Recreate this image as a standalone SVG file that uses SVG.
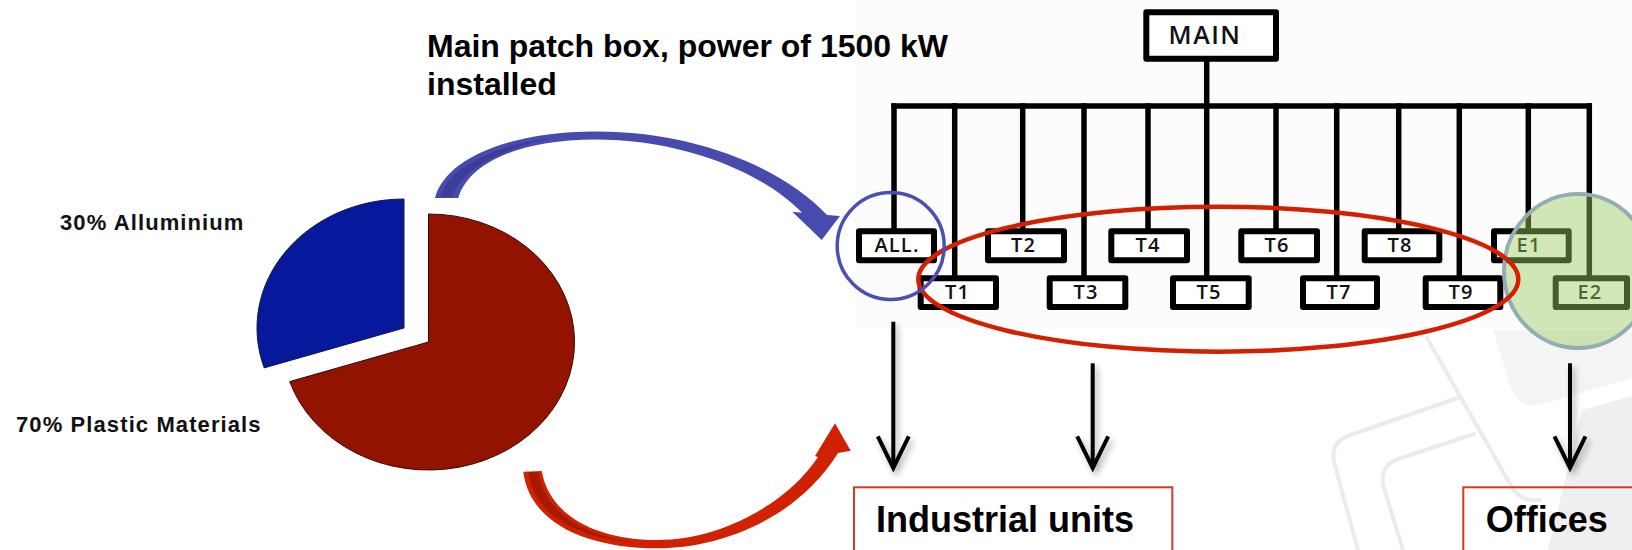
<svg xmlns="http://www.w3.org/2000/svg" width="1632" height="550" viewBox="0 0 1632 550">
<style>
.t{font-family:"Liberation Sans",Arial,sans-serif;font-weight:bold;fill:#000}
.lbl{font-family:"Liberation Sans",Arial,sans-serif;font-weight:bold;font-size:22px;letter-spacing:1.1px;fill:#111}
.bx{fill:#fff;stroke:#000;stroke-width:6;stroke-linejoin:round}
.bt{font-family:"Open Sans","DejaVu Sans",sans-serif;font-weight:600;font-size:20px;letter-spacing:1.2px;fill:#111;text-anchor:middle}
.ln{stroke:#000;stroke-width:5.5;fill:none}
.dn{stroke:#000;stroke-width:4;fill:none}
.wm{fill:none;stroke:#ebebeb;stroke-width:4;stroke-linecap:round}
.ob{fill:none;stroke:#d2392a;stroke-width:2}
</style>
<defs>
<filter id="sh" x="-50%" y="-20%" width="200%" height="140%">
<feDropShadow dx="3" dy="4" stdDeviation="3" flood-color="#000" flood-opacity="0.3"/>
</filter>
<marker id="v" markerUnits="userSpaceOnUse" viewBox="-36 -20 40 40" refX="0" refY="0" markerWidth="40" markerHeight="40" orient="auto" overflow="visible">
<path d="M -31.6 -15.5 L 0 0 L -31.6 15.5" fill="none" stroke="#000" stroke-width="4" stroke-linejoin="miter"/>
</marker>
</defs>
<rect width="1632" height="550" fill="#fff"/>
<g id="watermark">
<path d="M 1493 330 L 1511 388 Q 1519 410 1542 404 L 1632 378 L 1632 330 Z" fill="#f4f4f4"/>
<path d="M 1582 410 L 1632 396 L 1632 550 L 1548 550 Z" fill="#efefef"/>
<path class="wm" d="M 1427 338 L 1510 484 Q 1520 503 1540 500"/>
<path class="wm" d="M 1358 550 L 1334 462 Q 1330 442 1350 435 L 1458 398"/>
<path class="wm" d="M 1403 550 L 1383 485 Q 1380 466 1398 459 L 1474 434"/>
</g>
<rect x="855" y="0" width="777" height="328" fill="#fcfcfc"/>
<g id="pie">
<path id="slice-aluminium" d="M 404 328 L 404 199 A 147 129 0 0 0 264.2 367.9 Z" fill="#06189c" stroke="#1a1a40" stroke-width="1"/>
<path id="slice-plastic" d="M 428.5 342 L 428.5 214 A 146 128 0 1 1 289.7 381.6 Z" fill="#921400" stroke="#3a0800" stroke-width="1"/>
</g>
<text class="lbl" x="60" y="230">30% Alluminium</text>
<text class="lbl" x="16" y="431.7">70% Plastic Materials</text>
<g id="title">
<text class="t" x="427" y="57" font-size="32">Main patch box, power of 1500 kW</text>
<text class="t" x="427" y="94.5" font-size="32">installed</text>
</g>
<g id="connectors">
<path id="blue-arrow" d="M 435 198 C 445 160 505 132 595 131.5 C 690 131 780 165 827 215 L 840 216 L 821.7 240 L 792.3 211.7 L 802 212.7 C 760 170 680 139.5 595 139.5 C 515 140 468 165 458.3 198 Z" fill="#474bae"/>
<path d="M 440 197 C 450 165 500 143 560 137 C 505 146 462 168 452 197 Z" fill="#3a3e96"/>
<path id="red-arrow" d="M 523.3 471.7 C 530 525 590 548.3 656.7 548.3 C 715 549 795 522 838 453 L 850.7 450.7 L 835 423.3 L 815 456 L 818 457 C 790 500 725 540 656.7 540 C 600 540 550 518 541.7 471 Z" fill="#d02200"/>
<path d="M 528 472 C 534 512 570 536 630 542 C 575 532 546 510 538 472 Z" fill="#a81a00"/>
<g filter="url(#sh)">
<line class="dn" x1="893.3" y1="321.7" x2="893.3" y2="468" marker-end="url(#v)"/>
<line class="dn" x1="1092.7" y1="363.3" x2="1092.7" y2="468" marker-end="url(#v)"/>
<line class="dn" x1="1570" y1="363.3" x2="1570" y2="468" marker-end="url(#v)"/>
</g>
</g>
<g id="tree">
<line class="ln" x1="891.3" y1="106" x2="1592" y2="106"/>
<line class="ln" x1="1206.7" y1="58" x2="1206.7" y2="278"/>
<line class="ln" x1="894" y1="103.3" x2="894" y2="231"/>
<line class="ln" x1="954.7" y1="103.3" x2="954.7" y2="278"/>
<line class="ln" x1="1022.7" y1="103.3" x2="1022.7" y2="231"/>
<line class="ln" x1="1084" y1="103.3" x2="1084" y2="278"/>
<line class="ln" x1="1148" y1="103.3" x2="1148" y2="231"/>
<line class="ln" x1="1276" y1="103.3" x2="1276" y2="231"/>
<line class="ln" x1="1336.7" y1="103.3" x2="1336.7" y2="278"/>
<line class="ln" x1="1398.7" y1="103.3" x2="1398.7" y2="231"/>
<line class="ln" x1="1459.3" y1="103.3" x2="1459.3" y2="278"/>
<line class="ln" x1="1528.3" y1="103.3" x2="1528.3" y2="231"/>
<line class="ln" x1="1589.3" y1="103.3" x2="1589.3" y2="278"/>
</g>
<g id="MAIN"><rect class="bx" x="1146.3" y="12.3" width="129.7" height="46.4"/><text class="bt" x="1205" y="43.5" style="font-size:25px;letter-spacing:1.5px">MAIN</text></g>
<g id="ALL"><rect class="bx" x="859" y="231.3" width="75" height="29"/><text class="bt" x="897" y="252.3">ALL.</text></g>
<g id="T2"><rect class="bx" x="988" y="231.3" width="76" height="29"/><text class="bt" x="1023.5" y="252.3">T2</text></g>
<g id="T4"><rect class="bx" x="1111.3" y="231.3" width="75.7" height="29"/><text class="bt" x="1148" y="252.3">T4</text></g>
<g id="T6"><rect class="bx" x="1241.3" y="231.3" width="75.7" height="29"/><text class="bt" x="1277" y="252.3">T6</text></g>
<g id="T8"><rect class="bx" x="1364.7" y="231.3" width="74.6" height="29"/><text class="bt" x="1400" y="252.3">T8</text></g>
<g id="E1"><rect class="bx" x="1494" y="231.3" width="74.7" height="29"/><text class="bt" x="1529" y="252.3">E1</text></g>
<g id="T1"><rect class="bx" x="920.7" y="278.3" width="75.3" height="28.7"/><text class="bt" x="957.5" y="299">T1</text></g>
<g id="T3"><rect class="bx" x="1049.7" y="278.3" width="75.6" height="28.7"/><text class="bt" x="1086" y="299">T3</text></g>
<g id="T5"><rect class="bx" x="1173" y="278.3" width="75.7" height="28.7"/><text class="bt" x="1209" y="299">T5</text></g>
<g id="T7"><rect class="bx" x="1303" y="278.3" width="74" height="28.7"/><text class="bt" x="1339" y="299">T7</text></g>
<g id="T9"><rect class="bx" x="1425.7" y="278.3" width="74.6" height="28.7"/><text class="bt" x="1461" y="299">T9</text></g>
<g id="E2"><rect class="bx" x="1555.7" y="278.3" width="71.3" height="28.7"/><text class="bt" x="1590" y="299">E2</text></g>
<g id="highlights">
<ellipse id="green-group" cx="1578" cy="271" rx="74" ry="77" fill="#9dcc5f" fill-opacity="0.45" stroke="#93aeb3" stroke-width="4"/>
<ellipse id="red-group" cx="1218.3" cy="279.2" rx="300" ry="72.5" fill="none" stroke="#d42000" stroke-width="4.5"/>
<circle id="blue-group" cx="890.7" cy="246" r="53.5" fill="none" stroke="#4b4eb3" stroke-width="3.5"/>
</g>
<g id="industrial-units"><rect class="ob" x="854" y="487.3" width="318.3" height="80"/><text class="t" x="876" y="532.3" font-size="36">Industrial units</text></g>
<g id="offices"><rect class="ob" x="1463.3" y="487.3" width="200" height="80"/><text class="t" x="1485.7" y="532.3" font-size="36">Offices</text></g>
</svg>
